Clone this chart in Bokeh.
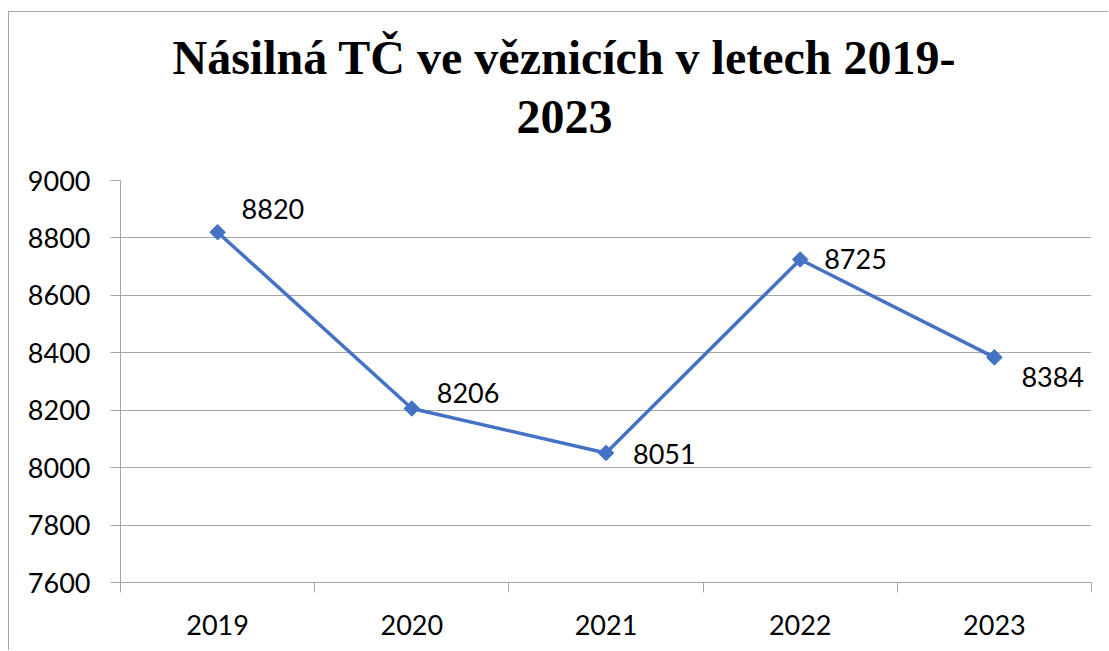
import numpy as np
from bokeh.plotting import figure
from bokeh.models import (Range1d, FixedTicker, Title, ColumnDataSource, LabelSet)
from bokeh.core.properties import value
from bokeh.embed import file_html
from bokeh.resources import INLINE

# ---- data ----
years = ["2019", "2020", "2021", "2022", "2023"]
counts = [8820, 8206, 8051, 8725, 8384]
y_ticks = [7600, 7800, 8000, 8200, 8400, 8600, 8800, 9000]
title_line1 = "Násilná TČ ve věznicích v letech 2019-"
title_line2 = "2023"

# label placement (style only, pixels)
label_dx = [24, 25, 27, 24, 27]
label_dy = [23, 15, -1, 0, -20]

BLUE = "#4472C4"
GRID = "#a6a6a6"
FONT = "Lato"

W, H = 1100, 639
p = figure(width=W, height=H, output_backend="svg", toolbar_location=None,
           x_range=Range1d(0, len(years)), y_range=Range1d(y_ticks[0], y_ticks[-1]),
           min_border_left=111, min_border_right=18, min_border_top=168,
           min_border_bottom=69)
p.styles = {"border-left": f"1px solid {GRID}", "border-top": f"1px solid {GRID}",
            "margin-left": "8px", "margin-top": "11px"}
p.outline_line_color = None
p.background_fill_color = "white"
p.border_fill_color = "white"

xs = [i + 0.5 for i in range(len(years))]
src = ColumnDataSource(dict(x=xs, y=counts, lbl=[str(c) for c in counts],
                            dx=label_dx, dy=label_dy))

# axes
p.xgrid.visible = False
p.ygrid.ticker = FixedTicker(ticks=y_ticks)
p.ygrid.grid_line_color = GRID
p.ygrid.grid_line_width = 1

p.yaxis.ticker = FixedTicker(ticks=y_ticks)
p.yaxis.axis_line_color = GRID
p.yaxis.major_tick_line_color = GRID
p.yaxis.major_tick_out = 10
p.yaxis.major_tick_in = 0
p.yaxis.minor_tick_line_color = None
p.yaxis.major_label_standoff = 20
p.yaxis.major_label_text_font = FONT
p.yaxis.major_label_text_font_size = "27px"
p.yaxis.major_label_text_color = "#000000"

p.xaxis.ticker = FixedTicker(ticks=xs, minor_ticks=list(range(len(years) + 1)))
p.xaxis.major_label_overrides = {x: y for x, y in zip(xs, years)}
p.xaxis.axis_line_color = GRID
p.xaxis.major_tick_line_color = None
p.xaxis.minor_tick_line_color = GRID
p.xaxis.minor_tick_out = 10
p.xaxis.minor_tick_in = 0
p.xaxis.major_label_standoff = 22
p.xaxis.major_label_text_font = FONT
p.xaxis.major_label_text_font_size = "27px"
p.xaxis.major_label_text_color = "#000000"

# series
p.line("x", "y", source=src, line_color=BLUE, line_width=3.5)
p.scatter("x", "y", source=src, marker="square", angle=np.pi / 4, size=11,
          fill_color=BLUE, line_color=BLUE)

labels = LabelSet(x="x", y="y", text="lbl", source=src, x_offset="dx", y_offset="dy",
                  text_font=value(FONT), text_font_size="27px", text_color="#000000",
                  text_baseline="middle", text_align="left")
p.add_layout(labels)

# title: invisible spacer next to the plot, then the two title lines
p.title = None
title_style = dict(text_font="Liberation Serif", text_font_style="bold",
                   text_font_size="48px", text_color="#000000", align="left")
p.add_layout(Title(text=" ", offset=0, standoff=-7, **title_style), "above")
p.add_layout(Title(text=title_line2, offset=396, standoff=0, **title_style), "above")
p.add_layout(Title(text=title_line1, offset=52, standoff=30, **title_style), "above")

open("out.html", "w").write(file_html(p, INLINE))
